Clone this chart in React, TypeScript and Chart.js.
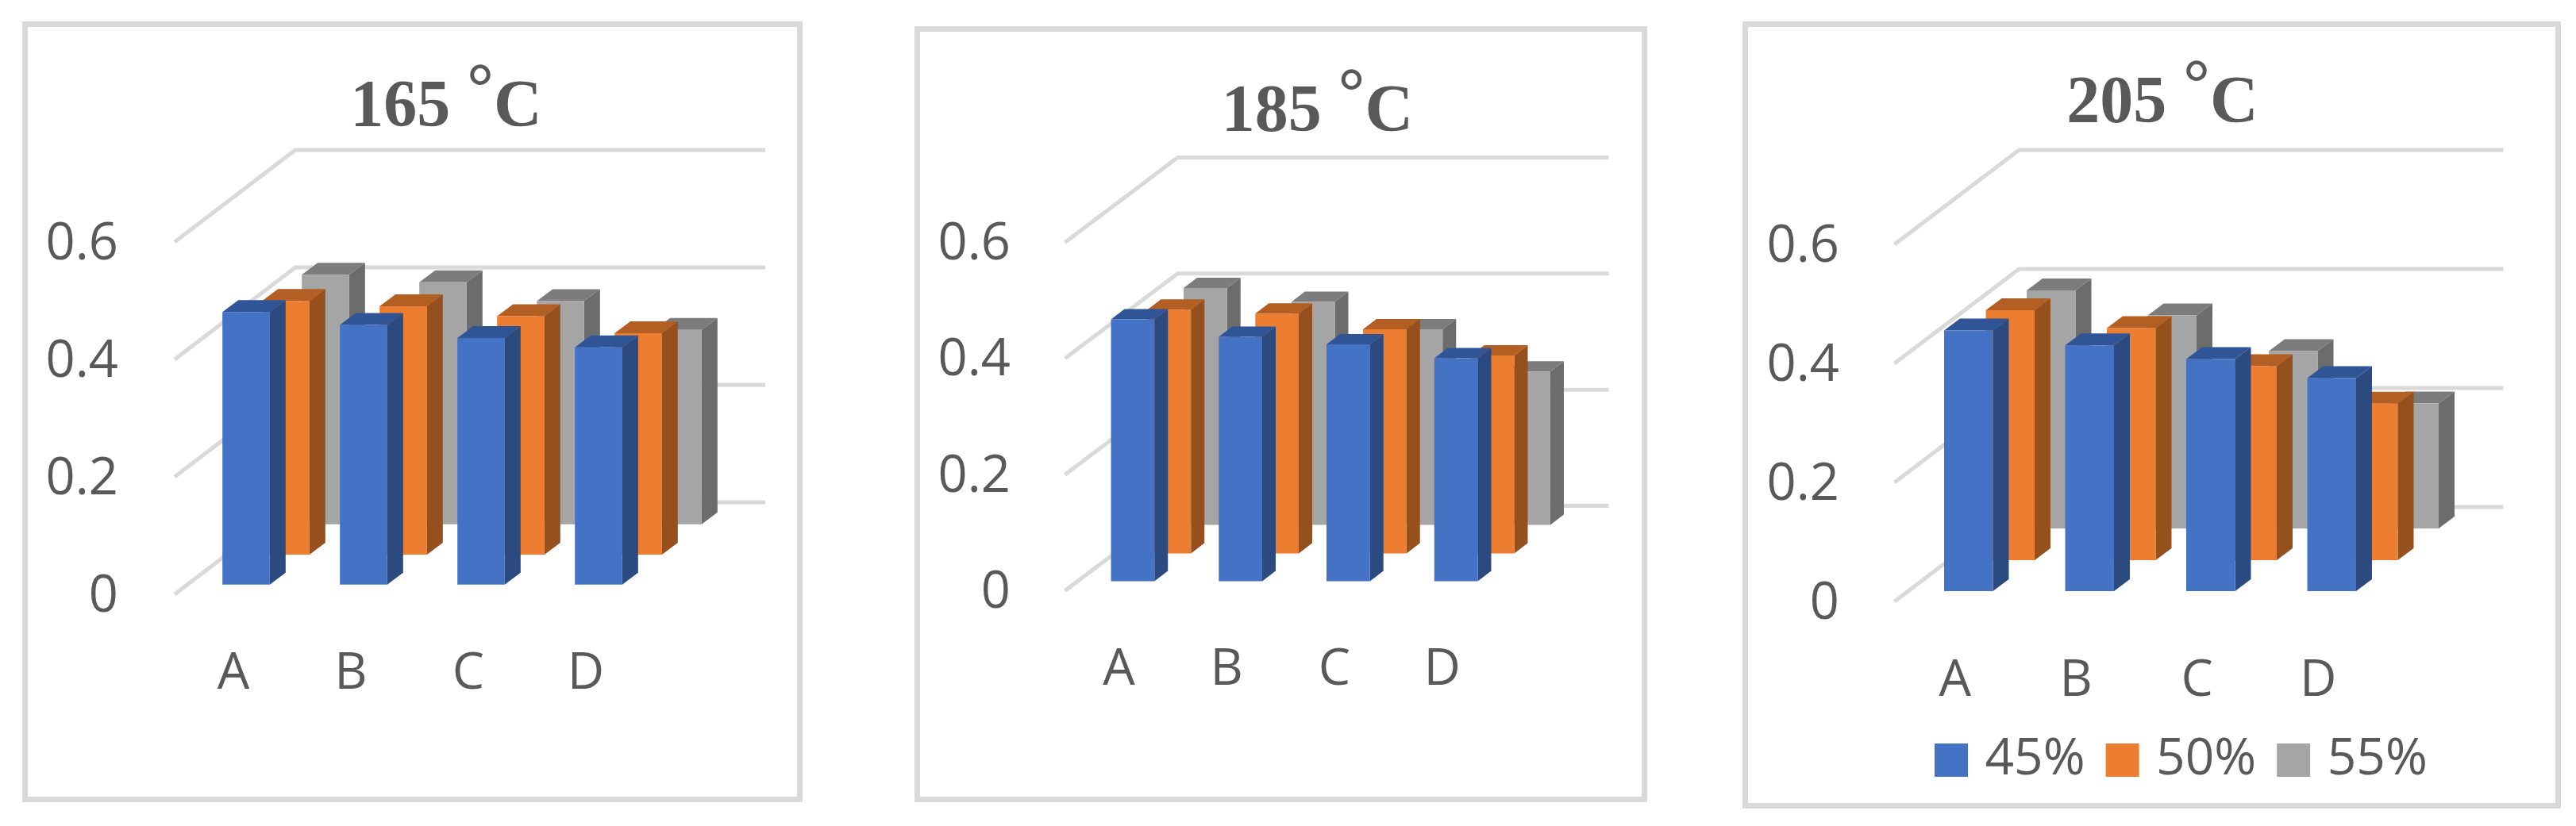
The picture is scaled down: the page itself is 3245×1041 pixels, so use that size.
import React, { useEffect, useRef } from "react";
import { Chart, registerables } from "chart.js";

Chart.register(...registerables);

const categories = ["A", "B", "C", "D"];
const seriesNames = ["45%", "50%", "55%"];
const seriesColors = ["#4472C4", "#ED7D31", "#A5A5A5"];
const sideColors = ["#2A4A80", "#96501E", "#6C6C6C"];
const topColors = ["#2F5597", "#B35E22", "#7C7C7C"];
const yTicksMax = 0.6;

const v165_45 = [0.464, 0.442, 0.42, 0.404];
const v165_50 = [0.432, 0.423, 0.406, 0.377];
const v165_55 = [0.425, 0.412, 0.38, 0.331];

const v185_45 = [0.451, 0.421, 0.408, 0.384];
const v185_50 = [0.42, 0.413, 0.386, 0.341];
const v185_55 = [0.408, 0.384, 0.337, 0.264];

const v205_45 = [0.438, 0.413, 0.39, 0.358];
const v205_50 = [0.42, 0.39, 0.326, 0.263];
const v205_55 = [0.4, 0.358, 0.298, 0.21];

const FRAME = "#D9D9D9";
const TEXT = "#595959";
const SANS = "'Open Sans', sans-serif";
const TITLE_FONT = "bold 84px 'Liberation Serif', serif";
const RING_RAISE = 21;

type Panel = {
  title: string;
  values: number[][];
  box: [number, number, number, number]; // outer x0,y0,x1,y1
  border: number;
  area: [number, number, number, number]; // front plane left, top, right, bottom
  wall: [number, number];
  offsets: [number, number][];
  side: [number, number];
  titleCenter: [number, number];
  tickPad: number;
  legend?: { x: number; y: number };
};

const panels: Panel[] = [
  {
    title: "165 °C",
    values: [v165_45, v165_50, v165_55],
    box: [28, 27, 1011, 1011],
    border: 7,
    area: [220, 305, 812, 749],
    wall: [152, 116],
    offsets: [[16, 12.3], [66, 50], [116, 88.3]],
    side: [20, 15],
    titleCenter: [562, 137],
    tickPad: 71,
  },
  {
    title: "185 °C",
    values: [v185_45, v185_50, v185_55],
    box: [1152, 33, 2075, 1011],
    border: 7.5,
    area: [1342, 306, 1885, 745],
    wall: [142, 107],
    offsets: [[17.5, 12], [63.5, 47], [109, 83]],
    side: [17, 13],
    titleCenter: [1660, 144],
    tickPad: 68.5,
  },
  {
    title: "205 °C",
    values: [v205_45, v205_50, v205_55],
    box: [2195, 27, 3226, 1019],
    border: 7,
    area: [2386.5, 308, 2996.5, 758],
    wall: [157, 119],
    offsets: [[17, 13], [69.5, 52], [121, 92]],
    side: [20, 15],
    titleCenter: [2724, 132],
    tickPad: 69.5,
    legend: { x: 2437, y: 955 },
  },
];

const LEGEND_PAD = 36.5;
const LEGEND_BOX = 21;

function makeDepthPlugin(p: Panel, ix: number, iy: number) {
  return {
    id: "depth3d",
    afterLayout(chart: any) {
      const tb = chart.titleBlock;
      if (tb) {
        const w = tb.right - tb.left;
        const cx = p.titleCenter[0] - ix;
        tb.left = cx - w / 2;
        tb.right = cx + w / 2;
        const h = tb.bottom - tb.top;
        tb.top = p.titleCenter[1] - iy - 42;
        tb.bottom = tb.top + h;
      }
      const lg = chart.legend;
      if (lg && p.legend) {
        const w = lg.right - lg.left;
        lg.left = p.legend.x - ix + LEGEND_BOX / 2 - LEGEND_PAD;
        lg.right = lg.left + w;
        const h = lg.bottom - lg.top;
        lg.top = p.legend.y - iy - LEGEND_PAD - 29;
        lg.bottom = lg.top + h;
      }
    },
    beforeDatasetsDraw(chart: any) {
      const { ctx, chartArea, scales } = chart;
      const [wx, wy] = p.wall;
      ctx.save();
      ctx.strokeStyle = FRAME;
      ctx.lineWidth = 5;
      ctx.lineJoin = "miter";
      scales.y.ticks.forEach((t: any) => {
        const y = scales.y.getPixelForValue(t.value);
        ctx.beginPath();
        ctx.moveTo(chartArea.left, y);
        ctx.lineTo(chartArea.left + wx, y - wy);
        ctx.lineTo(chartArea.right + wx, y - wy);
        ctx.stroke();
      });
      ctx.restore();
    },
    beforeDatasetDraw(chart: any, args: any) {
      const { ctx } = chart;
      const i = args.index;
      const [ox, oy] = p.offsets[i];
      const [sx, sy] = p.side;
      ctx.save();
      ctx.translate(ox, -oy);
      args.meta.data.forEach((el: any) => {
        const l = el.x - el.width / 2;
        const r = el.x + el.width / 2;
        const t = el.y;
        const b = el.base;
        ctx.fillStyle = sideColors[i];
        ctx.beginPath();
        ctx.moveTo(r, t);
        ctx.lineTo(r + sx, t - sy);
        ctx.lineTo(r + sx, b - sy);
        ctx.lineTo(r, b);
        ctx.closePath();
        ctx.fill();
        ctx.fillStyle = topColors[i];
        ctx.beginPath();
        ctx.moveTo(l, t);
        ctx.lineTo(l + sx, t - sy);
        ctx.lineTo(r + sx, t - sy);
        ctx.lineTo(r, t);
        ctx.closePath();
        ctx.fill();
      });
    },
    afterDatasetDraw(chart: any) {
      chart.ctx.restore();
    },
    // The title is one string; its degree ring sits higher than the digits in the reference.
    afterDraw(chart: any) {
      const { ctx, canvas } = chart;
      ctx.save();
      ctx.font = TITLE_FONT;
      const [prefix] = p.title.split("°");
      const total = ctx.measureText(p.title).width;
      const cx = p.titleCenter[0] - ix;
      const cy = p.titleCenter[1] - iy;
      const x0 = Math.floor(cx - total / 2 + ctx.measureText(prefix).width);
      const w = Math.ceil(ctx.measureText("°").width);
      const y0 = Math.round(cy - 45);
      const h = 55;
      const tmp = document.createElement("canvas");
      tmp.width = w;
      tmp.height = h;
      tmp.getContext("2d")!.drawImage(canvas, x0, y0, w, h, 0, 0, w, h);
      ctx.clearRect(x0, y0, w, h);
      ctx.drawImage(tmp, x0, y0 - RING_RAISE);
      ctx.restore();
    },
  };
}

function PanelChart({ p }: { p: Panel }) {
  const ref = useRef<HTMLCanvasElement>(null);
  const ix = p.box[0] + p.border;
  const iy = p.box[1] + p.border;
  const iw = p.box[2] - p.box[0] - 2 * p.border;
  const ih = p.box[3] - p.box[1] - 2 * p.border;

  useEffect(() => {
    const areaLeft = p.area[0] - ix;
    const areaTop = p.area[1] - iy;
    const areaRight = p.area[2] - ix;
    const areaBottom = p.area[3] - iy;
    const chart = new Chart(ref.current as HTMLCanvasElement, {
      type: "bar",
      data: {
        labels: categories,
        datasets: seriesNames.map((name, i) => ({
          label: name,
          data: p.values[i],
          backgroundColor: seriesColors[i],
          borderWidth: 0,
          clip: false as any,
        })),
      },
      plugins: [makeDepthPlugin(p, ix, iy)],
      options: {
        animation: false,
        responsive: false,
        maintainAspectRatio: false,
        datasets: { bar: { grouped: false, barPercentage: 0.403, categoryPercentage: 1 } },
        layout: { padding: { left: 0, top: 0, bottom: 0, right: iw - areaRight } },
        plugins: {
          tooltip: { enabled: false },
          title: {
            display: true,
            text: p.title,
            color: TEXT,
            font: { family: "'Liberation Serif', serif", size: 84, weight: "bold", lineHeight: 1 },
            padding: { top: 0, bottom: areaTop - 84 },
          },
          legend: {
            display: !!p.legend,
            position: "bottom",
            align: "start",
            labels: {
              boxWidth: LEGEND_BOX,
              boxHeight: LEGEND_BOX,
              padding: LEGEND_PAD,
              color: TEXT,
              font: { family: SANS, size: 64 },
              generateLabels: (c: any) =>
                c.data.datasets.map((d: any, i: number) => ({
                  text: d.label,
                  fillStyle: seriesColors[i],
                  strokeStyle: seriesColors[i],
                  fontColor: TEXT,
                  lineWidth: LEGEND_BOX,
                  lineJoin: "miter",
                  datasetIndex: i,
                  hidden: false,
                })),
            },
          },
        },
        scales: {
          x: {
            grid: { display: false, drawTicks: false },
            border: { display: false },
            ticks: {
              color: TEXT,
              font: { family: SANS, size: 64 },
              padding: 62,
              maxRotation: 0,
              autoSkip: false,
            },
            afterFit: (s: any) => {
              const lg = s.chart.legend;
              s.height = ih - areaBottom - (p.legend && lg ? lg.height : 0);
            },
          },
          y: {
            min: 0,
            max: yTicksMax,
            grid: { display: false, drawTicks: false },
            border: { display: false },
            ticks: {
              stepSize: 0.2,
              color: TEXT,
              font: { family: SANS, size: 65 },
              padding: p.tickPad,
              labelOffset: 3,
            },
            afterFit: (s: any) => {
              s.width = areaLeft;
            },
          },
        },
      } as any,
    });
    return () => chart.destroy();
  }, []);

  return (
    <div
      style={{
        position: "absolute",
        left: p.box[0],
        top: p.box[1],
        width: p.box[2] - p.box[0],
        height: p.box[3] - p.box[1],
        boxSizing: "border-box",
        border: `${p.border}px solid ${FRAME}`,
        background: "#fff",
      }}
    >
      <canvas ref={ref} width={iw} height={ih} style={{ display: "block", width: iw, height: ih }} />
    </div>
  );
}

export default function App() {
  return (
    <div
      style={{
        position: "absolute",
        left: 0,
        top: 0,
        width: 3245,
        height: 1041,
        overflow: "hidden",
        background: "#fff",
      }}
    >
      {panels.map((p) => (
        <PanelChart key={p.title} p={p} />
      ))}
    </div>
  );
}
